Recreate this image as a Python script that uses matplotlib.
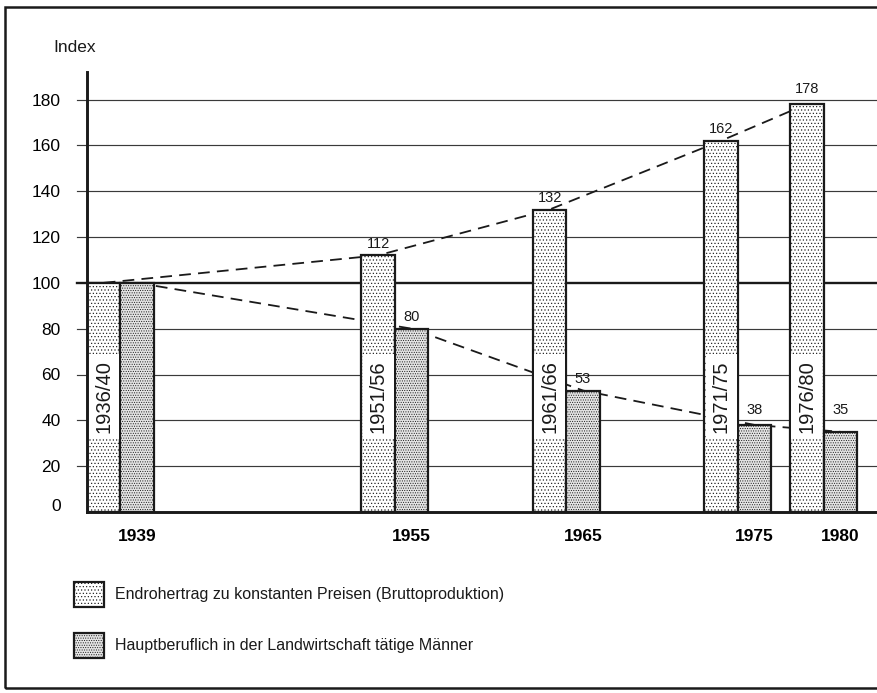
import matplotlib
matplotlib.use('Agg')
import matplotlib.pyplot as plt
from matplotlib.patches import Rectangle
from matplotlib.transforms import ScaledTranslation

# data
years = [1939, 1955, 1965, 1975, 1980]
periods = ['1936/40', '1951/56', '1961/66', '1971/75', '1976/80']
ertrag = [100, 112, 132, 162, 178]
maenner = [100, 80, 53, 38, 35]
yticks = list(range(0, 181, 20))
legend_labels = ['Endrohertrag zu konstanten Preisen (Bruttoproduktion)',
                 'Hauptberuflich in der Landwirtschaft tätige Männer']

plt.rcParams.update({
    'font.family': ['Liberation Sans', 'DejaVu Sans'],
    'font.size': 12,
    'text.color': '#1a1a1a',
    'hatch.linewidth': 0.45,
    'hatch.color': '#111111',
})

W = 1.95  # bar width in years
INK = '#1a1a1a'

fig = plt.figure(figsize=(8.78, 6.93), dpi=100)
ax = fig.add_axes([87 / 878, 181 / 693, 791 / 878, 440 / 693])
ax.set_xlim(years[0] - 1.5 * W, 1982.2)
ax.set_ylim(0, 192)

for s in ('top', 'right'):
    ax.spines[s].set_visible(False)
for s in ('left', 'bottom'):
    ax.spines[s].set_linewidth(2.1)
    ax.spines[s].set_color(INK)
    ax.spines[s].set_zorder(6)

# horizontal grid, extended left of the axis like ticks
for v in yticks[1:]:
    ax.axhline(v, xmin=-10 / 791, xmax=1, color='#3a3a3a' if v != 100 else INK,
               lw=1.7 if v == 100 else 0.85, clip_on=False, zorder=1)

style_e = dict(facecolor='white', edgecolor=INK, hatch='.....', linewidth=1.6)
style_m = dict(facecolor='#e4e4e4', edgecolor=INK, hatch='.......', linewidth=1.6)

x_e = [y - W for y in years]
x_m = list(years)

# dashed trend lines behind the bars
ax.plot(x_e, ertrag, color=INK, lw=1.3, dashes=(6.5, 4), zorder=2)
ax.plot(x_m, maenner, color=INK, lw=1.3, dashes=(6.5, 4), zorder=2)

ax.bar(x_e, ertrag, width=W, zorder=3, **style_e)
ax.bar(x_m, maenner, width=W, zorder=3, **style_m)

# period labels inside the Endrohertrag bars
for x, p in zip(x_e, periods):
    ax.text(x, 50.5, p, rotation=90, ha='center', va='center', fontsize=14.5,
            bbox=dict(boxstyle='square,pad=0.3', fc='white', ec='none'), zorder=5)


def label_y(v):
    gap = (-v) % 20
    if 0 < gap < 6:
        return v + gap + 1.5
    return v + 2


for i in range(1, len(years)):
    ax.text(x_e[i], label_y(ertrag[i]), str(ertrag[i]), ha='center', va='bottom',
            fontsize=10.5, zorder=5)
    ax.text(x_m[i], label_y(maenner[i]), str(maenner[i]), ha='center', va='bottom',
            fontsize=10.5, zorder=5)

ax.set_xticks(years)
ax.set_xticklabels([str(y) for y in years], fontweight='bold', fontsize=12.5)
ax.tick_params(axis='x', length=0, pad=12)
ax.set_yticks(yticks)
ax.set_yticklabels([str(v) for v in yticks], fontsize=12.5)
ax.tick_params(axis='y', length=0, pad=19)
lab0 = ax.get_yticklabels()[0]
lab0.set_transform(lab0.get_transform() + ScaledTranslation(0, 5 / 72, fig.dpi_scale_trans))

fig.text(53 / 878, 1 - 47 / 693, 'Index', ha='left', va='center', fontsize=12.5)

# legend drawn by hand
for i, (st, lab) in enumerate(zip([style_e, style_m], legend_labels)):
    top = 582 + i * 51
    fig.add_artist(Rectangle((74 / 878, 1 - (top + 25) / 693), 30 / 878, 25 / 693,
                             transform=fig.transFigure, **st))
    fig.text(115 / 878, 1 - (top + 12.5) / 693, lab, ha='left', va='center', fontsize=11.5)

# outer frame
fig.add_artist(Rectangle((5 / 878, 5 / 693), 2, 681 / 693, transform=fig.transFigure,
                         fill=False, lw=1.8, ec=INK))

fig.savefig('out.png', dpi=100, facecolor='white')
